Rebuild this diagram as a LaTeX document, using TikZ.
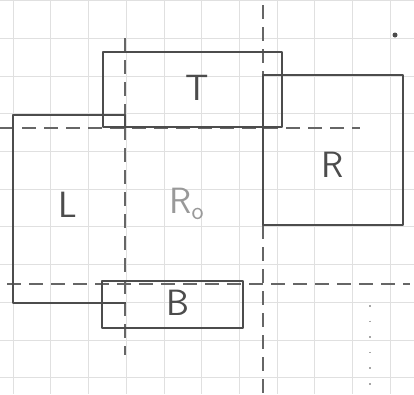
\documentclass[tikz,border=0pt]{standalone}
\usetikzlibrary{positioning}

\begin{document}
\begin{tikzpicture}[
  x=0.25mm, y=-0.25mm,
  every node/.style = {font=\fontsize{26}{30}\selectfont\sffamily, text=black!70},
  gridline/.style = {draw=black!12, line width=0.4pt},
  wall/.style = {draw=black!70, line width=1.3pt, line join=round},
  cut/.style = {draw=black!60, line width=1pt, dash pattern=on 3.5mm off 2mm},
  faint/.style = {draw=black!35, line width=0.8pt, dash pattern=on 0.4mm off 3.5mm}
]
\useasboundingbox (0,0) rectangle (414,394);

% --- grid paper
\foreach \gx in {13,50.7,88.4,126.1,163.8,201.5,239.2,276.9,314.6,352.3,390}
  \draw[gridline] (\gx,0) -- (\gx,394);
\foreach \gy in {0.5,38.2,75.9,113.6,151.3,189,226.7,264.4,302.1,339.8,377.5}
  \draw[gridline] (0,\gy) -- (414,\gy);

% --- cut lines
\coordinate (v1a) at (125,38);  \coordinate (v1b) at (125,355);
\coordinate (v2a) at (263,5);   \coordinate (v2b) at (263,394);
\coordinate (h1a) at (0,128);   \coordinate (h1b) at (360,128);
\coordinate (h2a) at (7,284);   \coordinate (h2b) at (410,284);
\draw[cut] (v1a) -- (v1b);
\draw[cut] (v2a) -- (v2b);
\draw[cut] (h1a) -- (h1b);
\draw[cut] (h2a) -- (h2b);

% --- L
\draw[wall] (125,127) -- (125,115) -- (13,115) -- (13,303) -- (126,303);
\node (lbl) at (68,205) {L};

% --- T
\draw[wall] (103,52) rectangle (282,127);
\node (tlbl) at (197,88) {T};

% --- R
\draw[wall] (263,75) rectangle (403,225);
\node (rlbl) at (333,165) {R};

% --- B
\draw[wall] (102,281) rectangle (243,328);
\node (blbl) at (178,303) {B};

% --- centre
\node[text=black!40] (rzero) at (187,204) {R\textsubscript{o}};

% --- marks on the paper
\fill[black!70] (395,35) circle (2.5);
\draw[faint] (370,305) -- (370,392);

\end{tikzpicture}
\end{document}
